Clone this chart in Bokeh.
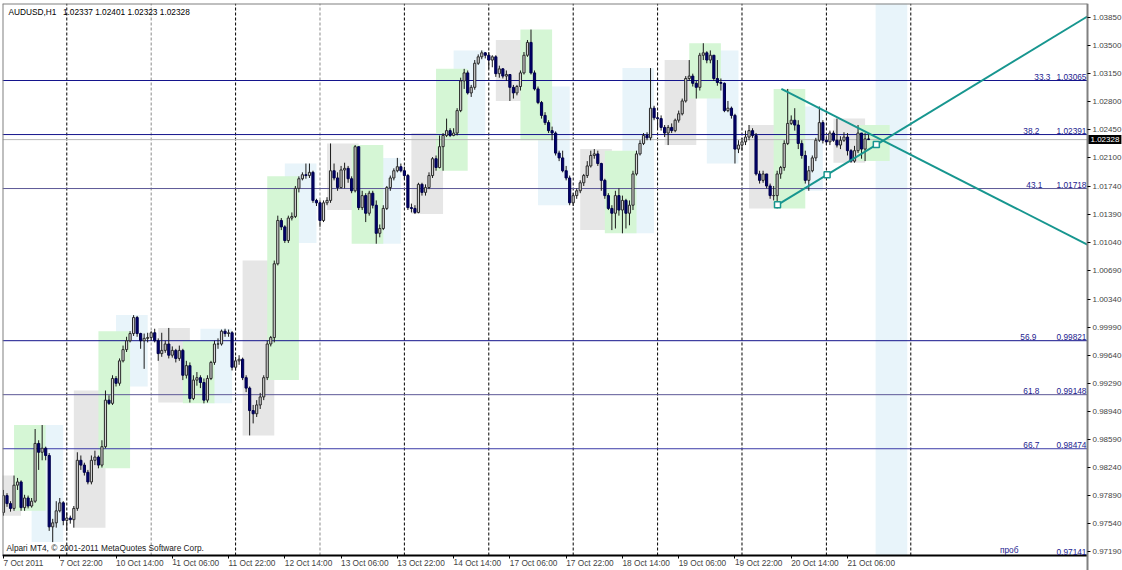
import numpy as np
from bokeh.plotting import figure
from bokeh.models import Range1d, FixedTicker, NumeralTickFormatter, Label
from bokeh.embed import file_html
from bokeh.resources import INLINE

# ---------------- data ----------------
symbol = "AUDUSD,H1"
first_open = 0.9768

closes = [
    0.9789, 0.9779, 0.9773, 0.9802, 0.9806, 0.9774, 0.9786, 0.9776, 0.9782, 0.9854,
    0.9843, 0.9848, 0.9839, 0.9750, 0.9755, 0.9770, 0.9780, 0.9758, 0.9761, 0.9759,
    0.9773, 0.9833, 0.9827, 0.9818, 0.9806, 0.9833, 0.9837, 0.9827, 0.9850, 0.9908,
    0.9904, 0.9935, 0.9929, 0.9957, 0.9971, 0.9982, 0.9991, 1.0011, 0.9991, 0.9982,
    0.9985, 0.9986, 0.9992, 0.9982, 0.9966, 0.9970, 0.9978, 0.9964, 0.9970, 0.9960,
    0.9970, 0.9939, 0.9951, 0.9910, 0.9933, 0.9936, 0.9930, 0.9908, 0.9935, 0.9955,
    0.9978, 0.9978, 0.9994, 0.9991, 0.9992, 0.9949, 0.9957, 0.9959, 0.9936, 0.9923,
    0.9895, 0.9891, 0.9902, 0.9912, 0.9936, 0.9978, 0.9986, 1.0078, 1.0132, 1.0124,
    1.0107, 1.0135, 1.0137, 1.0172, 1.0184, 1.0189, 1.0188, 1.0192, 1.0157, 1.0154,
    1.0132, 1.0154, 1.0157, 1.0194, 1.0185, 1.0173, 1.0195, 1.0197, 1.0184, 1.0169,
    1.0224, 1.0148, 1.0163, 1.0141, 1.0166, 1.0151, 1.0116, 1.0122, 1.0147, 1.0173,
    1.0185, 1.0194, 1.0199, 1.0194, 1.0188, 1.0148, 1.0147, 1.0142, 1.0177, 1.0167,
    1.0173, 1.0188, 1.0209, 1.0198, 1.0224, 1.0238, 1.0244, 1.0238, 1.0241, 1.0269,
    1.0306, 1.0316, 1.0291, 1.0298, 1.0328, 1.0336, 1.0341, 1.0338, 1.0332, 1.0336,
    1.0315, 1.0321, 1.0312, 1.0314, 1.0298, 1.0291, 1.0299, 1.0316, 1.0338, 1.0354,
    1.0316, 1.0296, 1.0279, 1.0263, 1.0254, 1.0244, 1.0241, 1.0216, 1.0210, 1.0194,
    1.0185, 1.0154, 1.0163, 1.0169, 1.0179, 1.0188, 1.0200, 1.0213, 1.0215, 1.0203,
    1.0182, 1.0163, 1.0147, 1.0141, 1.0163, 1.0145, 1.0157, 1.0141, 1.0151, 1.0190,
    1.0215, 1.0228, 1.0238, 1.0235, 1.0272, 1.0260, 1.0259, 1.0248, 1.0241, 1.0248,
    1.0244, 1.0257, 1.0265, 1.0281, 1.0309, 1.0312, 1.0303, 1.0298, 1.0338, 1.0341,
    1.0332, 1.0338, 1.0309, 1.0304, 1.0303, 1.0269, 1.0272, 1.0263, 1.0221, 1.0226,
    1.0230, 1.0236, 1.0244, 1.0238, 1.0190, 1.0182, 1.0190, 1.0175, 1.0163, 1.0163,
    1.0190, 1.0198, 1.0228, 1.0253, 1.0257, 1.0251, 1.0228, 1.0213, 1.0182, 1.0194,
    1.0210, 1.0232, 1.0254, 1.0232, 1.0230, 1.0241, 1.0232, 1.0226, 1.0232, 1.0236,
    1.0219, 1.0206, 1.0219, 1.0241, 1.0221, 1.02337, 1.02328,
]

highs = [
    0.9796, 0.9792, 0.9782, 0.9814, 0.9811, 0.9808, 0.9790, 0.9789, 0.9786, 0.9872,
    0.9858, 0.9877, 0.9850, 0.9842, 0.9760, 0.9782, 0.9786, 0.9782, 0.9768, 0.9764,
    0.9776, 0.9843, 0.9839, 0.9830, 0.9821, 0.9839, 0.9845, 0.9839, 0.9858, 0.9920,
    0.9914, 0.9939, 0.9938, 0.9960, 0.9976, 0.9987, 0.9994, 1.0014, 1.0013, 0.9992,
    0.9991, 0.9992, 0.9994, 0.9997, 0.9985, 0.9992, 0.9982, 0.9998, 0.9975, 0.9972,
    0.9976, 0.9972, 0.9957, 0.9955, 0.9939, 0.9943, 0.9939, 0.9935, 0.9939, 0.9957,
    0.9982, 0.9985, 0.9996, 0.9997, 0.9996, 0.9994, 0.9962, 0.9964, 0.9961, 0.9939,
    0.9925, 0.9902, 0.9908, 0.9917, 0.9939, 0.9982, 0.9988, 1.0082, 1.0138, 1.0135,
    1.0126, 1.0138, 1.0142, 1.0175, 1.0187, 1.0192, 1.0203, 1.0203, 1.0194, 1.0159,
    1.0157, 1.0157, 1.0161, 1.0228, 1.0203, 1.0192, 1.0200, 1.0204, 1.0200, 1.0187,
    1.0226, 1.0224, 1.0169, 1.0166, 1.0169, 1.0169, 1.0157, 1.0127, 1.0151, 1.0175,
    1.0188, 1.0197, 1.0210, 1.0203, 1.0199, 1.0190, 1.0153, 1.0151, 1.0179, 1.0179,
    1.0177, 1.0192, 1.0211, 1.0213, 1.0238, 1.0241, 1.0259, 1.0247, 1.0247, 1.0272,
    1.0310, 1.0321, 1.0319, 1.0301, 1.0332, 1.0339, 1.0344, 1.0342, 1.0342, 1.0338,
    1.0338, 1.0325, 1.0322, 1.0319, 1.0314, 1.0301, 1.0301, 1.0319, 1.0342, 1.0357,
    1.0370, 1.0319, 1.0299, 1.0281, 1.0267, 1.0257, 1.0249, 1.0243, 1.0219, 1.0219,
    1.0200, 1.0188, 1.0166, 1.0172, 1.0182, 1.0190, 1.0206, 1.0219, 1.0221, 1.0219,
    1.0204, 1.0184, 1.0166, 1.0151, 1.0169, 1.0172, 1.0163, 1.0159, 1.0157, 1.0194,
    1.0219, 1.0232, 1.0241, 1.0242, 1.0322, 1.0275, 1.0267, 1.0263, 1.0251, 1.0251,
    1.0253, 1.0259, 1.0269, 1.0284, 1.0312, 1.0332, 1.0315, 1.0306, 1.0341, 1.0353,
    1.0343, 1.0344, 1.0338, 1.0332, 1.0309, 1.0304, 1.0281, 1.0274, 1.0265, 1.0232,
    1.0235, 1.0244, 1.0251, 1.0247, 1.0241, 1.0194, 1.0194, 1.0188, 1.0178, 1.0175,
    1.0194, 1.0200, 1.0232, 1.0296, 1.0263, 1.0272, 1.0257, 1.0232, 1.0219, 1.0200,
    1.0213, 1.0235, 1.0274, 1.0257, 1.0237, 1.0244, 1.0244, 1.0259, 1.0237, 1.0242,
    1.0241, 1.0221, 1.0225, 1.0251, 1.0241, 1.0241, 1.02401,
]

lows = [
    0.9764, 0.9775, 0.9769, 0.9770, 0.9796, 0.9770, 0.9770, 0.9773, 0.9774, 0.9780,
    0.9821, 0.9833, 0.9833, 0.9745, 0.9731, 0.9749, 0.9768, 0.9752, 0.9745, 0.9754,
    0.9749, 0.9770, 0.9821, 0.9814, 0.9803, 0.9803, 0.9827, 0.9823, 0.9824, 0.9848,
    0.9902, 0.9902, 0.9925, 0.9926, 0.9955, 0.9968, 0.9980, 0.9988, 0.9987, 0.9972,
    0.9947, 0.9980, 0.9982, 0.9980, 0.9957, 0.9962, 0.9967, 0.9960, 0.9961, 0.9955,
    0.9957, 0.9933, 0.9935, 0.9905, 0.9908, 0.9926, 0.9923, 0.9904, 0.9905, 0.9933,
    0.9952, 0.9972, 0.9976, 0.9987, 0.9987, 0.9945, 0.9945, 0.9952, 0.9933, 0.9918,
    0.9864, 0.9879, 0.9887, 0.9897, 0.9908, 0.9933, 0.9975, 0.9980, 1.0076, 1.0120,
    1.0104, 1.0104, 1.0132, 1.0135, 1.0167, 1.0182, 1.0184, 1.0185, 1.0154, 1.0150,
    1.0124, 1.0130, 1.0151, 1.0154, 1.0182, 1.0169, 1.0172, 1.0172, 1.0179, 1.0166,
    1.0167, 1.0145, 1.0145, 1.0130, 1.0138, 1.0147, 1.0103, 1.0111, 1.0120, 1.0145,
    1.0169, 1.0182, 1.0192, 1.0192, 1.0184, 1.0145, 1.0142, 1.0140, 1.0141, 1.0163,
    1.0163, 1.0171, 1.0185, 1.0194, 1.0197, 1.0194, 1.0236, 1.0236, 1.0237, 1.0238,
    1.0267, 1.0296, 1.0289, 1.0286, 1.0295, 1.0326, 1.0333, 1.0334, 1.0321, 1.0323,
    1.0311, 1.0310, 1.0309, 1.0306, 1.0281, 1.0284, 1.0288, 1.0294, 1.0314, 1.0336,
    1.0314, 1.0294, 1.0277, 1.0259, 1.0251, 1.0241, 1.0232, 1.0213, 1.0206, 1.0192,
    1.0182, 1.0151, 1.0150, 1.0159, 1.0166, 1.0175, 1.0185, 1.0198, 1.0209, 1.0200,
    1.0169, 1.0159, 1.0145, 1.0120, 1.0122, 1.0138, 1.0116, 1.0122, 1.0126, 1.0145,
    1.0188, 1.0213, 1.0226, 1.0232, 1.0232, 1.0257, 1.0247, 1.0244, 1.0236, 1.0226,
    1.0241, 1.0242, 1.0254, 1.0263, 1.0279, 1.0306, 1.0299, 1.0284, 1.0294, 1.0332,
    1.0328, 1.0328, 1.0306, 1.0300, 1.0294, 1.0267, 1.0267, 1.0259, 1.0203, 1.0216,
    1.0219, 1.0226, 1.0232, 1.0235, 1.0188, 1.0178, 1.0179, 1.0172, 1.0159, 1.0157,
    1.0147, 1.0184, 1.0194, 1.0226, 1.0251, 1.0244, 1.0221, 1.0209, 1.0178, 1.0169,
    1.0192, 1.0206, 1.0230, 1.0228, 1.0226, 1.0226, 1.0230, 1.0223, 1.0221, 1.0230,
    1.0213, 1.0204, 1.0204, 1.0216, 1.0209, 1.0206, 1.02323,
]

# time axis (bar index of each labelled hour)
time_tick_bars = [0, 16, 32, 48, 64, 80, 96, 112, 128, 144, 160, 176, 192, 208, 224, 240]
time_tick_labels = ["7 Oct 2011", "7 Oct 22:00", "10 Oct 14:00", "11 Oct 06:00",
                    "11 Oct 22:00", "12 Oct 14:00", "13 Oct 06:00", "13 Oct 22:00",
                    "14 Oct 14:00", "17 Oct 06:00", "17 Oct 22:00", "18 Oct 14:00",
                    "19 Oct 06:00", "19 Oct 22:00", "20 Oct 14:00", "21 Oct 06:00"]

# midnight bars (start of each trading day) and grid separators
day_start_bars = [-6, 18, 42, 66, 90, 114, 138, 162, 186, 210, 234]
grid_bars = [18, 42, 66, 90, 114, 138, 162, 186, 210, 234, 258]
grey_grid_bars = [42, 90]

# trading sessions (hour of day)
session_names = ["Asia", "America", "Europe"]
session_start_hour = [2, 14, 9]
session_end_hour = [11, 23, 18]

# price axis ticks
price_ticks = [1.03850, 1.03500, 1.03150, 1.02800, 1.02450, 1.02100, 1.01740, 1.01390,
               1.01040, 1.00690, 1.00340, 0.99990, 0.99640, 0.99290, 0.98940, 0.98590,
               0.98240, 0.97890, 0.97540, 0.97190]

# fibonacci-style levels
fib_names = ["33.3", "38.2", "43.1", "56.9", "61.8", "66.7", "проб"]
fib_prices = [1.03065, 1.02391, 1.01718, 0.99821, 0.99148, 0.98474, 0.97141]

# triangle trend lines (bar index, price)
upper_line_x = [221.2, 308.2]
upper_line_y = [1.02960, 1.01020]
lower_line_x = [220.1, 308.2]
lower_line_y = [1.01515, 1.03863]
lower_marks_x = [220.1, 234.2, 248.2]
lower_marks_y = [1.01515, 1.01891, 1.02266]

last_open, last_high, last_low, last_close = 1.02337, 1.02401, 1.02323, 1.02328

# ---------------- styles ----------------
FONT = "Liberation Sans"
FS = "8.3px"
session_colors = {"Asia": "#e6e6e6", "America": "#e8f4fa", "Europe": "#d5f6d5"}
fib_colors = ["#14148c", "#14148c", "#5c5896", "#14148c", "#5c5896", "#3c3ca8", "#14148c"]
fib_name_offsets = [-37, -48, -45, -51, -48, -48, -69]   # px from the right edge
TEAL = "#17968f"

X0, X1 = -0.28, 308.24      # chart area (bars)
XR = 318.2                  # includes the price-scale strip on the right
Y0, Y1 = 0.97143, 1.04025   # chart area (price)
YB = 0.96956                # includes the time-scale strip below

# ---------------- derived ----------------
n = min(len(closes), len(highs), len(lows))
c = np.array(closes[:n])
o = np.array([first_open] + closes[:n - 1])
h = np.maximum(np.maximum(np.array(highs[:n]), o), c)
l = np.minimum(np.minimum(np.array(lows[:n]), o), c)
idx = np.arange(n)
up = c >= o

p = figure(width=1122, height=570, output_backend="svg", toolbar_location=None,
           x_range=Range1d(X0, XR), y_range=Range1d(YB, Y1),
           y_axis_location="right", min_border=0)
p.min_border_left = 2
p.min_border_top = 3
p.min_border_right = 0
p.min_border_bottom = 0
p.xgrid.visible = False
p.ygrid.visible = False
p.outline_line_color = None
p.background_fill_color = "white"
p.border_fill_color = "white"

# session boxes
for name, sh, eh in zip(session_names, session_start_hour, session_end_hour):
    L, R, T, B = [], [], [], []
    for g in day_start_bars:
        a, b = g + sh, g + eh
        ac, bc = max(a, 0), min(b, n - 1)
        if ac <= bc:
            T.append(h[ac:bc + 1].max())
            B.append(l[ac:bc + 1].min())
        elif a >= n and a < X1:
            T.append(Y1)
            B.append(Y0)
        else:
            continue
        L.append(a)
        R.append(b)
    p.quad(left=L, right=R, top=T, bottom=B, fill_color=session_colors[name],
           line_alpha=0)

# vertical day grid
for gb in grid_bars:
    col = "#8a8a8a" if gb in grey_grid_bars else "#000000"
    p.segment(x0=[gb], y0=[Y0], x1=[gb], y1=[Y1], line_color=col,
              line_dash="3 2", line_width=1)

# fib level lines (clamped to the chart area)
fib_draw = [max(v, Y0) for v in fib_prices]
p.segment(x0=[X0] * len(fib_prices), y0=fib_draw, x1=[X1] * len(fib_prices),
          y1=fib_draw, line_color=fib_colors, line_width=1)

# current price line
p.segment(x0=[X0], y0=[last_close], x1=[X1], y1=[last_close], line_color="#b8b8b8",
          line_width=1)

# candles
p.segment(x0=idx, y0=l, x1=idx, y1=h, line_color="#1a1a1a", line_width=1)
p.vbar(x=idx[up], bottom=o[up], top=c[up], width=0.62, fill_color="#d4d4d4",
       line_color="#2a2a2a", line_width=1)
p.vbar(x=idx[~up], bottom=c[~up], top=o[~up], width=0.62, fill_color="#000070",
       line_color="#00004a", line_width=1)

# triangle lines
p.line(upper_line_x, upper_line_y, line_color=TEAL, line_width=2)
p.line(lower_line_x, lower_line_y, line_color=TEAL, line_width=2)
p.scatter(lower_marks_x, lower_marks_y, marker="square", size=6, fill_color="white",
          line_color=TEAL, line_width=1.5)

# chart border (left, top, bottom)
p.segment(x0=[X0, X0, X0], y0=[Y0, Y1, Y0], x1=[X0, X1, X1], y1=[Y1, Y1, Y0],
          line_color=["#808080", "#808080", "#000000"], line_width=2)

# fib labels
for name, pr, off in zip(fib_names, fib_prices, fib_name_offsets):
    yy = max(pr, Y0)
    p.add_layout(Label(x=X1, y=yy, x_offset=off, y_offset=1, text=name,
                       text_align="right", text_baseline="bottom",
                       text_font=FONT, text_font_size=FS, text_color="#23238f"))
    p.add_layout(Label(x=X1, y=yy, x_offset=-1, y_offset=1, text=f"{pr:.5f}",
                       text_align="right", text_baseline="bottom",
                       text_font=FONT, text_font_size=FS, text_color="#23238f"))

# title and copyright
title_txt = f"{symbol}\u2002 {last_open:.5f} {last_high:.5f} {last_low:.5f} {last_close:.5f}"
p.add_layout(Label(x=X0, y=Y1, x_offset=6, y_offset=-3, text=title_txt,
                   text_align="left", text_baseline="top", text_font=FONT,
                   text_font_size=FS, text_color="#000000"))
p.add_layout(Label(x=X0, y=Y0, x_offset=4, y_offset=3,
                   text="Alpari MT4, \u00a9 2001-2011 MetaQuotes Software Corp.",
                   text_align="left", text_baseline="bottom", text_font=FONT,
                   text_font_size=FS, text_color="#202020"))

# current price tag (sits on the price scale)
p.add_layout(Label(x=X1, y=last_close, x_offset=1, text=f"{last_close:.5f}",
                   text_align="left", text_baseline="middle", text_font=FONT,
                   text_font_size="8px", text_color="white",
                   background_fill_color="black", padding=2, level="overlay"))

# time axis (labels start at their tick, as in MT4)
xa = p.xaxis[0]
xa.fixed_location = Y0
xa.ticker = FixedTicker(ticks=time_tick_bars)
xa.major_label_overrides = {b: t for b, t in zip(time_tick_bars, time_tick_labels)}
xa.major_label_orientation = -0.0001
xa.major_label_text_font = FONT
xa.major_label_text_font_size = FS
xa.major_label_standoff = 4
xa.major_tick_in = 0
xa.major_tick_out = 3
xa.minor_tick_out = 0
xa.minor_tick_in = 0
xa.axis_line_color = None
xa.major_tick_line_color = "#000000"

# price axis, fixed at the right edge of the chart area
ya = p.yaxis[0]
ya.fixed_location = X1
ya.ticker = FixedTicker(ticks=price_ticks)
ya.formatter = NumeralTickFormatter(format="0.00000")
ya.major_label_text_font = FONT
ya.major_label_text_font_size = "8px"
ya.major_label_standoff = 2
ya.major_tick_in = 0
ya.major_tick_out = 3
ya.minor_tick_out = 0
ya.minor_tick_in = 0
ya.axis_line_color = "#808080"
ya.axis_line_width = 2
ya.major_tick_line_color = "#000000"

open("out.html", "w").write(file_html(p, INLINE))
